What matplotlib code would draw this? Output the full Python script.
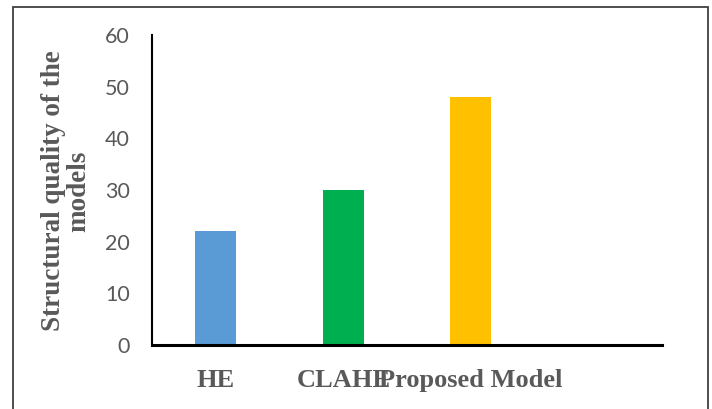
import matplotlib
matplotlib.use("Agg")
import matplotlib.pyplot as plt
from matplotlib.patches import Rectangle

# bar data
categories = ["HE", "CLAHE", "Proposed Model", ""]
values = [22, 30, 48, None]
bar_colors = ["#5B9BD5", "#00B050", "#FFC000", "none"]
y_ticks = [0, 10, 20, 30, 40, 50, 60]

text_gray = "#595959"

fig = plt.figure(figsize=(7.12, 4.09), dpi=100)
ax = fig.add_axes([152 / 712, 1 - 345 / 409, 510 / 712, 310 / 409])

xs = list(range(len(categories)))
for x, v, c in zip(xs, values, bar_colors):
    if v is None:
        continue
    ax.bar(x, v, width=0.32, color=c, zorder=2)

ax.set_xlim(-0.5, len(categories) - 0.5)
ax.set_ylim(0, 60)
ax.set_yticks(y_ticks)
ax.set_yticklabels([str(t) for t in y_ticks], fontfamily="Lato",
                   fontsize=15.5, color=text_gray)
ax.set_xticks(xs)
ax.set_xticklabels(categories, fontfamily="Liberation Serif",
                   fontweight="bold", fontsize=19, color=text_gray)
ax.tick_params(axis="y", length=0, pad=16)
ax.tick_params(axis="x", length=0, pad=17)

for side in ["top", "right"]:
    ax.spines[side].set_visible(False)
ax.spines["left"].set_linewidth(1.5)
ax.spines["left"].set_color("black")
ax.spines["bottom"].set_linewidth(2.2)
ax.spines["bottom"].set_color("black")

fig.text(66 / 712, 1 - 191 / 409, "Structural quality of the\nmodels",
         rotation=90, ha="center", va="center", multialignment="center",
         fontfamily="Liberation Serif", fontweight="bold", fontsize=19.5,
         color=text_gray, linespacing=1.0)

# outer frame (open at the bottom)
frame = Rectangle((13 / 712, -0.05), (708 - 13) / 712, 1.05 - 7 / 409,
                  transform=fig.transFigure, fill=False,
                  edgecolor="#404040", linewidth=1.3)
fig.patches.append(frame)

fig.savefig("out.png", dpi=100)
